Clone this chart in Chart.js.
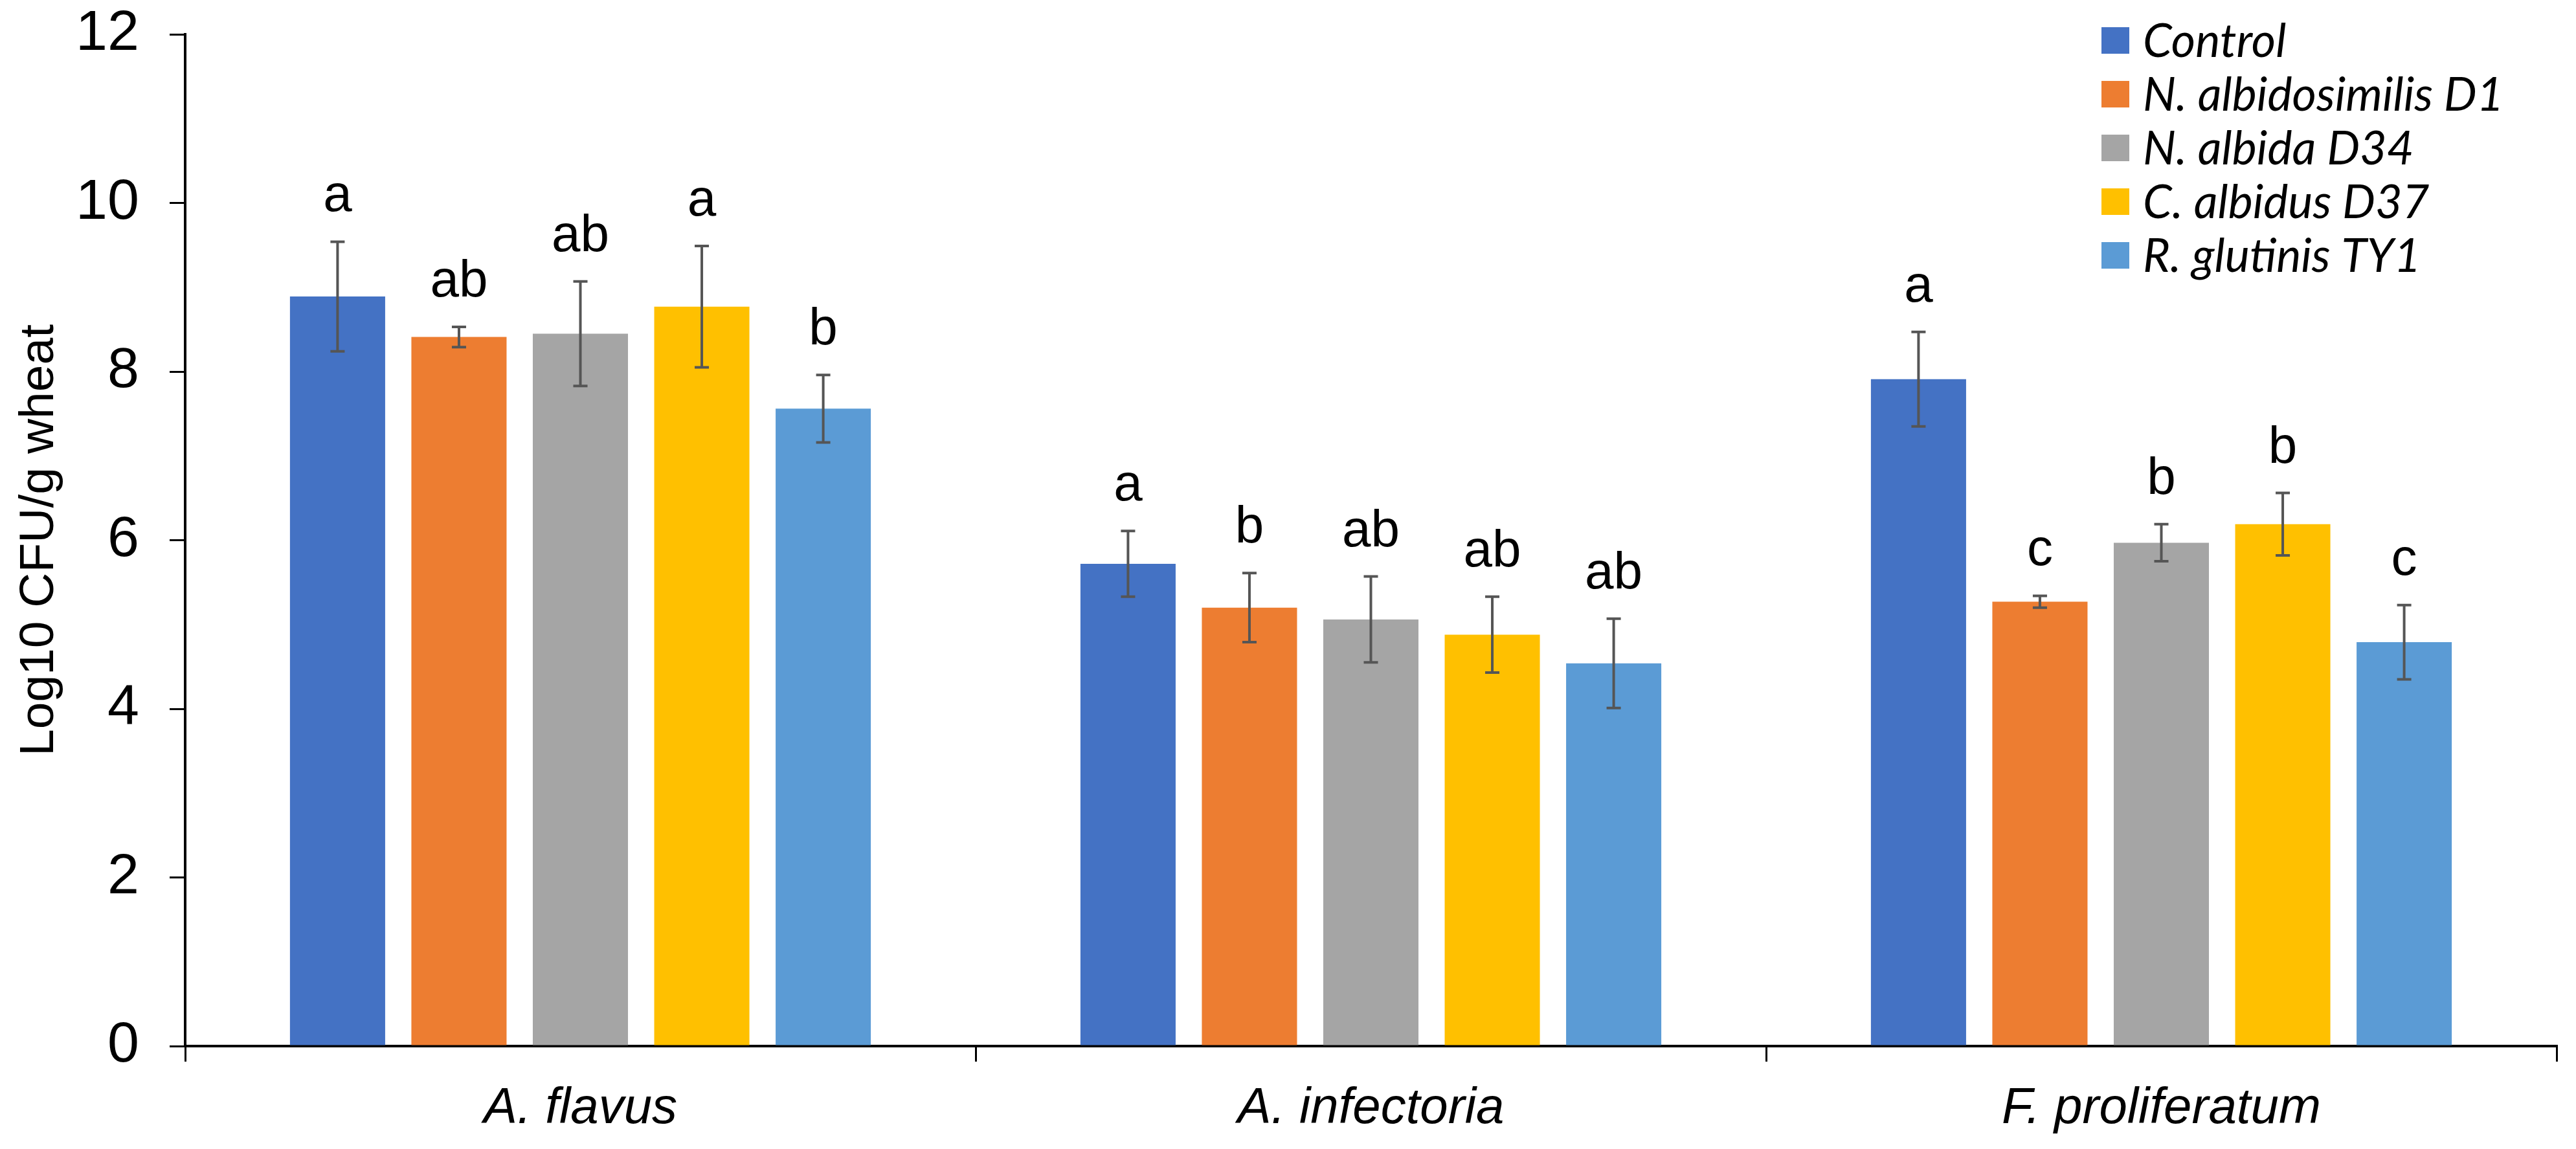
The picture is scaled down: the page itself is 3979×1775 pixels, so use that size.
<!DOCTYPE html>
<html>
<head>
<meta charset="utf-8">
<script src="https://cdn.jsdelivr.net/npm/chart.js@4.4.1/dist/chart.umd.min.js"></script>
<style>
  html, body { margin: 0; padding: 0; background: #fff; }
  canvas { display: block; }
</style>
</head>
<body>
<canvas id="chart" width="3979" height="1775"></canvas>
<script>
// data
const categories = ["A. flavus", "A. infectoria", "F. proliferatum"];
const seriesNames = ["Control", "N. albidosimilis D1", "N. albida D34", "C. albidus D37", "R. glutinis TY1"];
const seriesColors = ["#4472C4", "#ED7D31", "#A5A5A5", "#FFC000", "#5B9BD5"];

const controlMeans = [8.89, 5.72, 7.91];
const albidosimilisMeans = [8.41, 5.20, 5.27];
const albidaMeans = [8.45, 5.06, 5.97];
const albidusMeans = [8.77, 4.88, 6.19];
const glutinisMeans = [7.56, 4.54, 4.79];

const controlErr = [0.65, 0.39, 0.56];
const albidosimilisErr = [0.12, 0.41, 0.07];
const albidaErr = [0.62, 0.51, 0.22];
const albidusErr = [0.72, 0.45, 0.37];
const glutinisErr = [0.40, 0.53, 0.44];

const controlLetters = ["a", "a", "a"];
const albidosimilisLetters = ["ab", "b", "c"];
const albidaLetters = ["ab", "ab", "b"];
const albidusLetters = ["a", "ab", "b"];
const glutinisLetters = ["b", "ab", "c"];

const yTicks = [0, 2, 4, 6, 8, 10, 12];

const allMeans = [controlMeans, albidosimilisMeans, albidaMeans, albidusMeans, glutinisMeans];
const allErr = [controlErr, albidosimilisErr, albidaErr, albidusErr, glutinisErr];
const allLetters = [controlLetters, albidosimilisLetters, albidaLetters, albidusLetters, glutinisLetters];

const datasets = seriesNames.map((name, i) => ({
  label: name,
  data: allMeans[i],
  err: allErr[i],
  letters: allLetters[i],
  backgroundColor: seriesColors[i],
  borderWidth: 0,
  barPercentage: 0.784,
  categoryPercentage: 0.768,
}));

// error bars and significance letters
const errorBars = {
  id: "errorBars",
  afterDatasetsDraw(chart) {
    const ctx = chart.ctx;
    const y = chart.scales.y;
    ctx.save();
    ctx.strokeStyle = "#555555";
    ctx.lineWidth = 4;
    ctx.fillStyle = "#000";
    ctx.font = "80px 'Liberation Sans', Arial, sans-serif";
    ctx.textAlign = "center";
    ctx.textBaseline = "alphabetic";
    chart.data.datasets.forEach((ds, di) => {
      const meta = chart.getDatasetMeta(di);
      meta.data.forEach((bar, i) => {
        const v = ds.data[i], e = ds.err[i];
        const top = y.getPixelForValue(v + e);
        const bot = y.getPixelForValue(v - e);
        const x = bar.x;
        ctx.beginPath();
        ctx.moveTo(x, top); ctx.lineTo(x, bot);
        ctx.moveTo(x - 11, top); ctx.lineTo(x + 11, top);
        ctx.moveTo(x - 11, bot); ctx.lineTo(x + 11, bot);
        ctx.stroke();
        ctx.fillText(ds.letters[i], x, top - 47);
      });
    });
    ctx.restore();
  }
};

// legend inside the plot, top right
const insideLegend = {
  id: "insideLegend",
  afterDraw(chart) {
    const ctx = chart.ctx;
    ctx.save();
    ctx.font = "italic 72px Lato, 'Open Sans', sans-serif";
    ctx.textBaseline = "middle";
    ctx.textAlign = "left";
    chart.data.datasets.forEach((ds, i) => {
      const cy = 62 + i * 83;
      ctx.fillStyle = ds.backgroundColor;
      ctx.fillRect(3246, cy - 20, 43, 41);
      ctx.fillStyle = "#000";
      ctx.fillText(ds.label, 3310, cy + 3);
    });
    ctx.restore();
  }
};

new Chart(document.getElementById("chart"), {
  type: "bar",
  data: { labels: categories, datasets },
  plugins: [errorBars, insideLegend],
  options: {
    responsive: false,
    animation: false,
    devicePixelRatio: 1,
    layout: { padding: { left: 0, right: 30, top: 53, bottom: 0 } },
    plugins: {
      legend: { display: false },
      tooltip: { enabled: false },
    },
    scales: {
      x: {
        afterFit(scale) { scale.height = 159; },
        grid: { offset: true, drawOnChartArea: false, drawTicks: true, tickLength: 24, color: "#000", lineWidth: 3 },
        border: { display: true, color: "#000", width: 4 },
        ticks: {
          color: "#000",
          padding: 26,
          font: { family: "'Liberation Sans', Arial, sans-serif", size: 78, style: "italic" },
        },
      },
      y: {
        min: 0,
        max: 12,
        afterFit(scale) {
          scale.width = 286;
          scale.paddingTop = 0;
          scale.paddingBottom = 0;
        },
        afterBuildTicks(scale) { scale.ticks = yTicks.map(v => ({ value: v })); },
        grid: { drawOnChartArea: false, drawTicks: true, tickLength: 24, color: "#000", lineWidth: 3 },
        border: { display: true, color: "#000", width: 4 },
        ticks: {
          color: "#000",
          padding: 47,
          font: { family: "'Liberation Sans', Arial, sans-serif", size: 88 },
        },
        title: {
          display: true,
          text: "Log10 CFU/g wheat",
          color: "#000",
          padding: { top: 16, bottom: 0 },
          font: { family: "'Liberation Sans', Arial, sans-serif", size: 75 },
        },
      },
    },
  },
});
</script>
</body>
</html>
